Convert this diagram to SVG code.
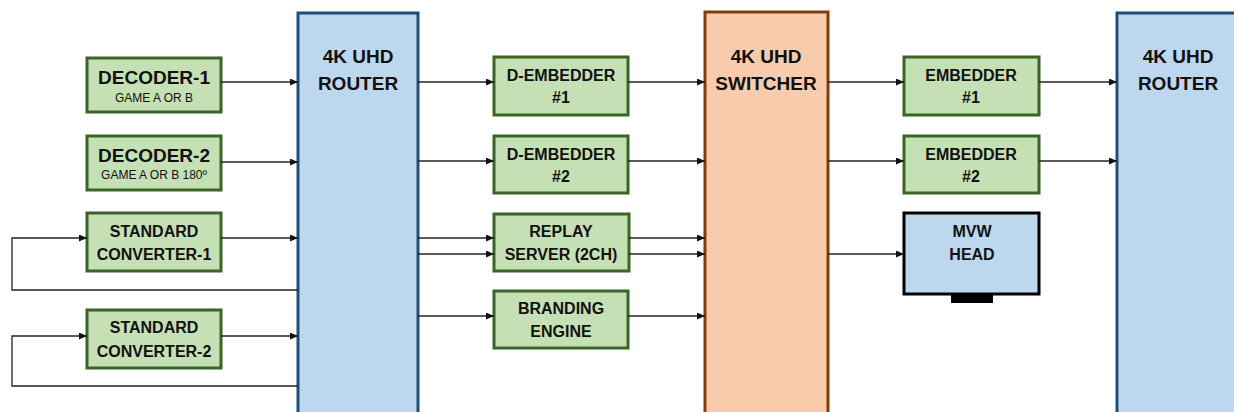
<svg xmlns="http://www.w3.org/2000/svg" width="1234" height="412" viewBox="0 0 1234 412">
  <style>
    .grn { fill: #c5e0b4; stroke: #3b6427; stroke-width: 3; }
    .blu { fill: #bdd7ee; stroke: #1f4e79; stroke-width: 3; }
    .org { fill: #f8cbad; stroke: #843c0c; stroke-width: 3; }
    .mon { fill: #bdd7ee; stroke: #000; stroke-width: 3; }
    text { font-family: "Liberation Sans", Arial, sans-serif; fill: #111; text-anchor: middle; }
    .b18 { font-size: 19px; font-weight: bold; }
    .b16 { font-size: 16px; font-weight: bold; }
    .s11 { font-size: 12px; }
    .wire { fill: none; stroke: #222; stroke-width: 1.3; }
  </style>
  <defs>
    <marker id="arr" markerUnits="userSpaceOnUse" markerWidth="9" markerHeight="8" refX="8" refY="3.5" orient="auto">
      <path d="M0,0 L8,3.5 L0,7 z" fill="#111"/>
    </marker>
  </defs>

  <!-- core units -->
  <g id="router-in">
    <rect class="blu" x="298" y="13" width="120" height="410"/>
    <text class="b18" x="358" y="63">4K UHD</text>
    <text class="b18" x="358" y="90">ROUTER</text>
  </g>
  <g id="switcher">
    <rect class="org" x="705" y="12" width="123" height="410"/>
    <text class="b18" x="766" y="63">4K UHD</text>
    <text class="b18" x="766" y="90">SWITCHER</text>
  </g>
  <g id="router-out">
    <rect class="blu" x="1117" y="13" width="130" height="410"/>
    <text class="b18" x="1178" y="63">4K UHD</text>
    <text class="b18" x="1178" y="90">ROUTER</text>
  </g>

  <!-- sources -->
  <g id="decoder-1">
    <rect class="grn" x="87" y="58" width="134" height="54"/>
    <text class="b18" x="154" y="84">DECODER-1</text>
    <text class="s11" x="154" y="102">GAME A OR B</text>
  </g>
  <g id="decoder-2">
    <rect class="grn" x="87" y="136" width="134" height="54"/>
    <text class="b18" x="154" y="162">DECODER-2</text>
    <text class="s11" x="154" y="179">GAME A OR B 180º</text>
  </g>
  <g id="converter-1">
    <rect class="grn" x="87" y="213" width="134" height="58"/>
    <text class="b16" x="154" y="237">STANDARD</text>
    <text class="b16" x="154" y="260">CONVERTER-1</text>
  </g>
  <g id="converter-2">
    <rect class="grn" x="87" y="310" width="134" height="58"/>
    <text class="b16" x="154" y="333">STANDARD</text>
    <text class="b16" x="154" y="357">CONVERTER-2</text>
  </g>

  <!-- processing -->
  <g id="d-embedder-1">
    <rect class="grn" x="494" y="57" width="134" height="58"/>
    <text class="b16" x="561" y="81">D-EMBEDDER</text>
    <text class="b16" x="561" y="103">#1</text>
  </g>
  <g id="d-embedder-2">
    <rect class="grn" x="494" y="136" width="134" height="57"/>
    <text class="b16" x="561" y="160">D-EMBEDDER</text>
    <text class="b16" x="561" y="182">#2</text>
  </g>
  <g id="replay">
    <rect class="grn" x="494" y="214" width="135" height="57"/>
    <text class="b16" x="561" y="237">REPLAY</text>
    <text class="b16" x="561" y="260">SERVER (2CH)</text>
  </g>
  <g id="branding">
    <rect class="grn" x="494" y="291" width="134" height="57"/>
    <text class="b16" x="561" y="314">BRANDING</text>
    <text class="b16" x="561" y="337">ENGINE</text>
  </g>

  <!-- outputs -->
  <g id="embedder-1">
    <rect class="grn" x="904" y="57" width="135" height="58"/>
    <text class="b16" x="971" y="81">EMBEDDER</text>
    <text class="b16" x="971" y="103">#1</text>
  </g>
  <g id="embedder-2">
    <rect class="grn" x="904" y="136" width="135" height="57"/>
    <text class="b16" x="971" y="160">EMBEDDER</text>
    <text class="b16" x="971" y="182">#2</text>
  </g>
  <g id="mvw-head">
    <rect x="951" y="293" width="42" height="10" fill="#000"/>
    <rect class="mon" x="904" y="213" width="135" height="81"/>
    <text class="b16" x="972" y="237">MVW</text>
    <text class="b16" x="972" y="260">HEAD</text>
  </g>

  <!-- signal paths -->
  <g id="connectors" class="wire" marker-end="url(#arr)">
    <path d="M221,82 H298"/>
    <path d="M221,162 H298"/>
    <path d="M221,238 H298"/>
    <path d="M221,336 H298"/>
    <path d="M298,290 H12 V238 H87"/>
    <path d="M298,386 H12 V336 H87"/>

    <path d="M418,82 H494"/>
    <path d="M418,161 H494"/>
    <path d="M418,238 H494"/>
    <path d="M418,254 H494"/>
    <path d="M418,316 H494"/>

    <path d="M628,82 H705"/>
    <path d="M628,161 H705"/>
    <path d="M629,238 H705"/>
    <path d="M629,254 H705"/>
    <path d="M628,316 H705"/>

    <path d="M828,82 H904"/>
    <path d="M828,161 H904"/>
    <path d="M828,254 H904"/>

    <path d="M1039,82 H1117"/>
    <path d="M1039,161 H1117"/>
  </g>
</svg>
